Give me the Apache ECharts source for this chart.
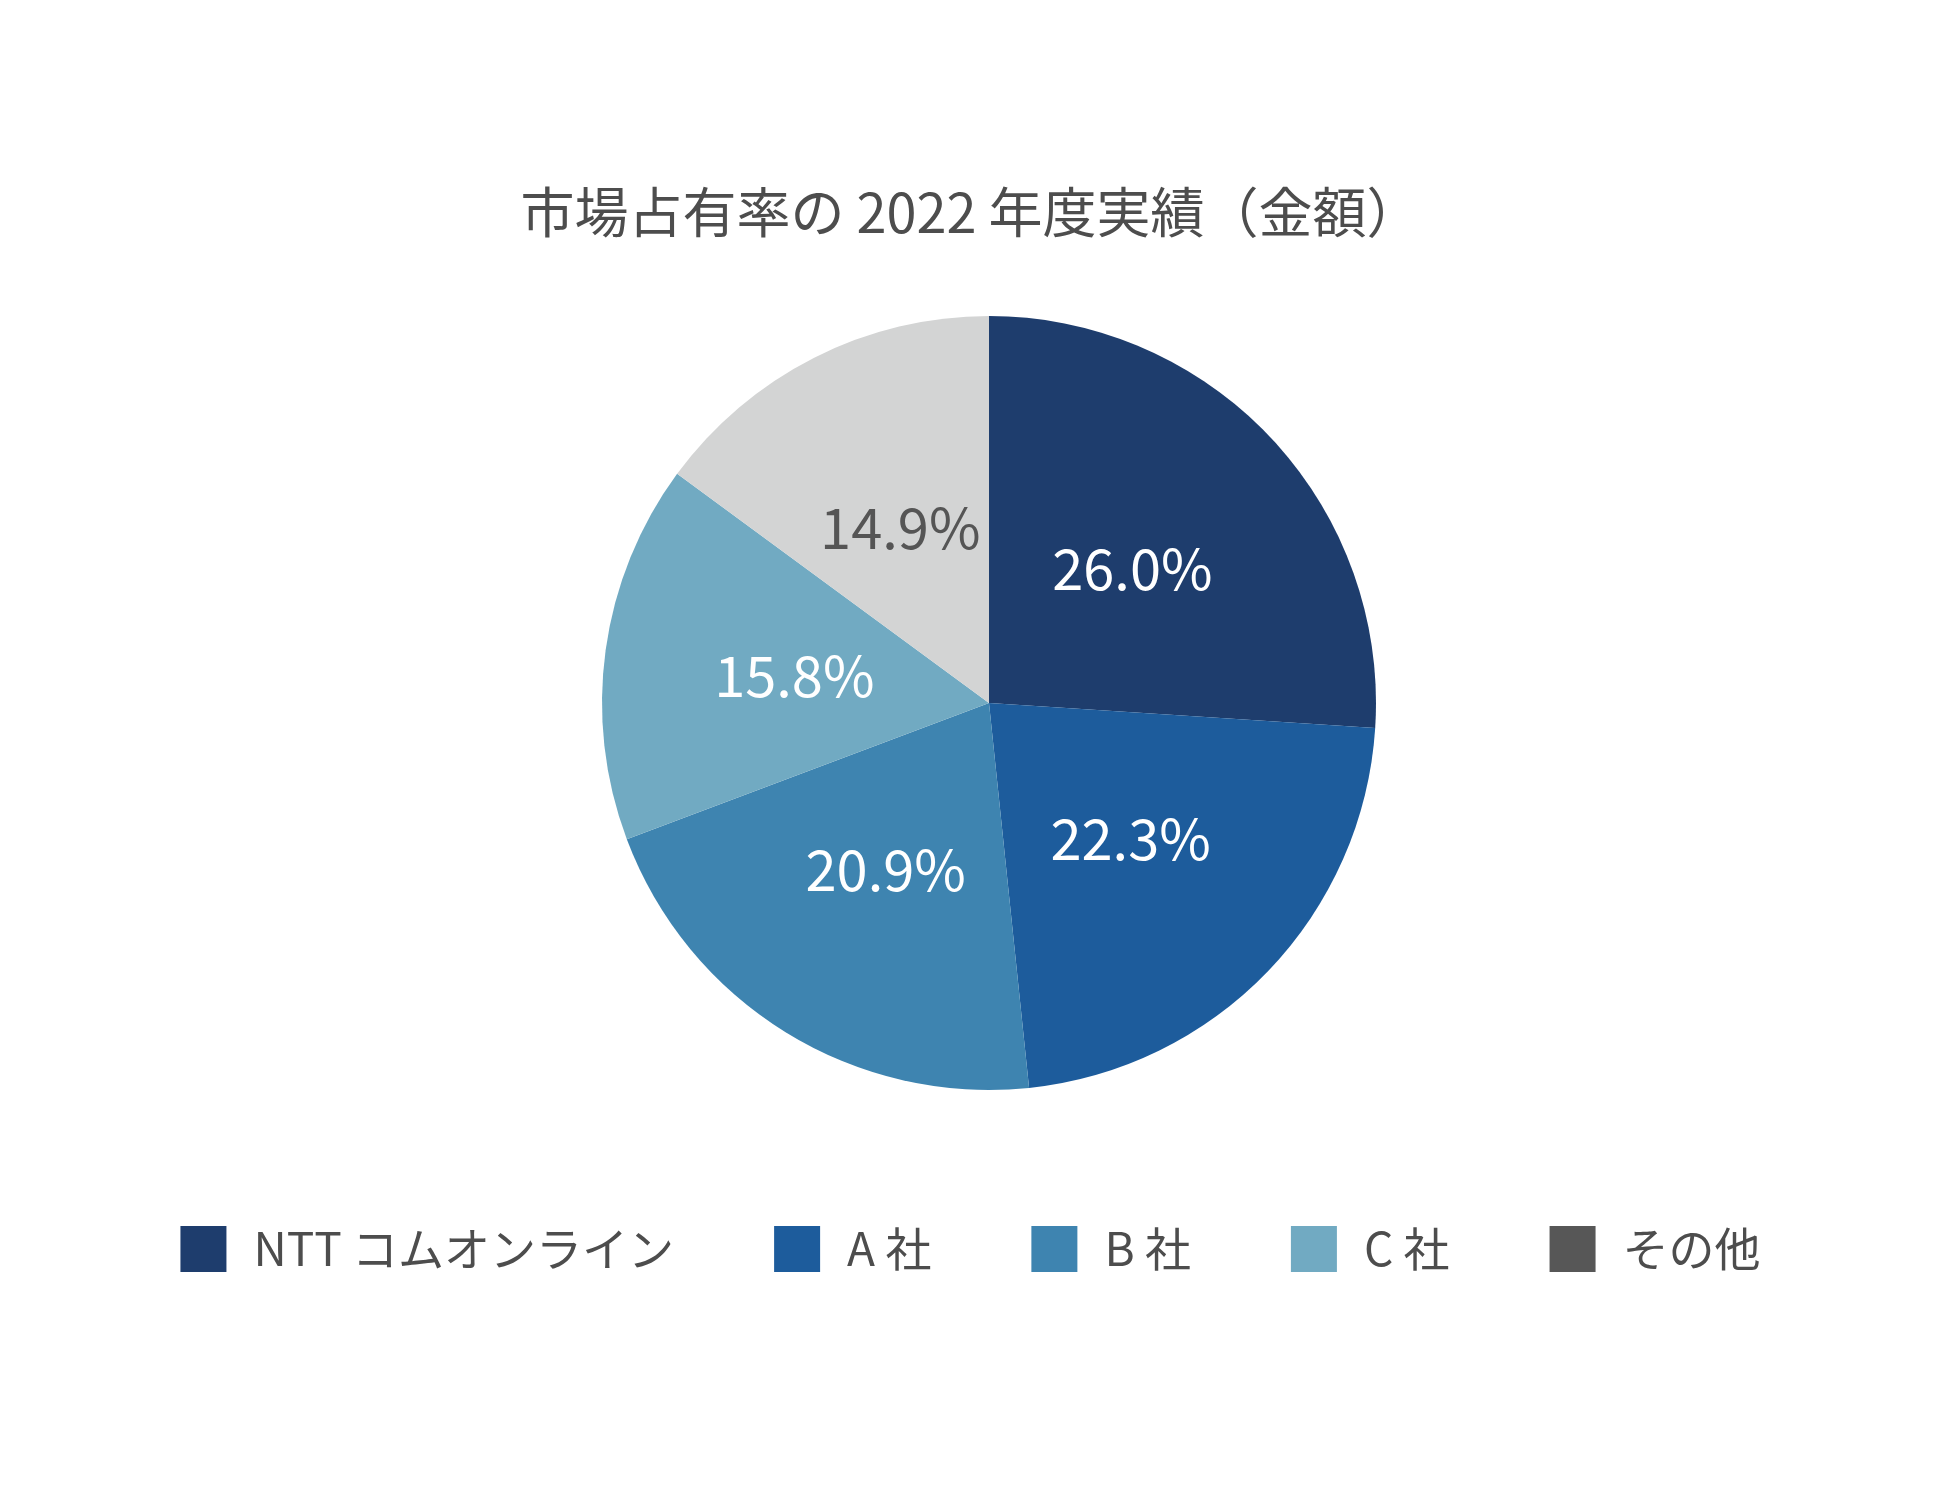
<!DOCTYPE html>
<html><head><meta charset="utf-8">
<script src="https://cdn.jsdelivr.net/npm/echarts@6/dist/echarts.min.js"></script>
<style>html,body{margin:0;background:#fff}#c{width:1941px;height:1504px}</style>
</head><body><div id="c"></div>
<script>
var names = ['NTT コムオンライン', 'A 社', 'B 社', 'C 社', 'その他'];
var values = [26.0, 22.3, 20.9, 15.8, 14.9];
var colors = ['#1e3d6d', '#1d5c9c', '#3e84b0', '#71aac2', '#d3d4d4'];
var legendColors = ['#1e3d6d', '#1d5c9c', '#3e84b0', '#71aac2', '#575757'];
var labelColors = ['#fff', '#fff', '#fff', '#fff', '#555'];

var font = '"Noto Sans CJK JP", "Noto Sans", sans-serif';
var chart = echarts.init(document.getElementById('c'));
chart.setOption({
  animation: false,
  title: {
    text: '市場占有率の 2022 年度実績（金額）',
    left: 'center', top: 180,
    textStyle: {fontSize: 54, fontWeight: 'normal', color: '#4d4d4d', fontFamily: font}
  },
  legend: {
    bottom: 227, left: 'center',
    itemWidth: 46, itemHeight: 46, itemGap: 100,
    icon: 'rect',
    textStyle: {fontSize: 46, color: '#4d4d4d', fontFamily: font, padding: [0, 0, 0, 22]},
    data: names.map(function (n, i) { return {name: n, itemStyle: {color: legendColors[i]}}; })
  },
  series: [{
    type: 'pie',
    center: [989, 703],
    radius: [0, 387],
    startAngle: 90,
    clockwise: true,
    label: {
      position: 'inside', fontSize: 56, fontFamily: font,
      formatter: function (p) { return p.value.toFixed(1) + '%'; }
    },
    data: names.map(function (n, i) {
      return {name: n, value: values[i], itemStyle: {color: colors[i]}, label: {color: labelColors[i]}};
    })
  }]
});
</script></body></html>
